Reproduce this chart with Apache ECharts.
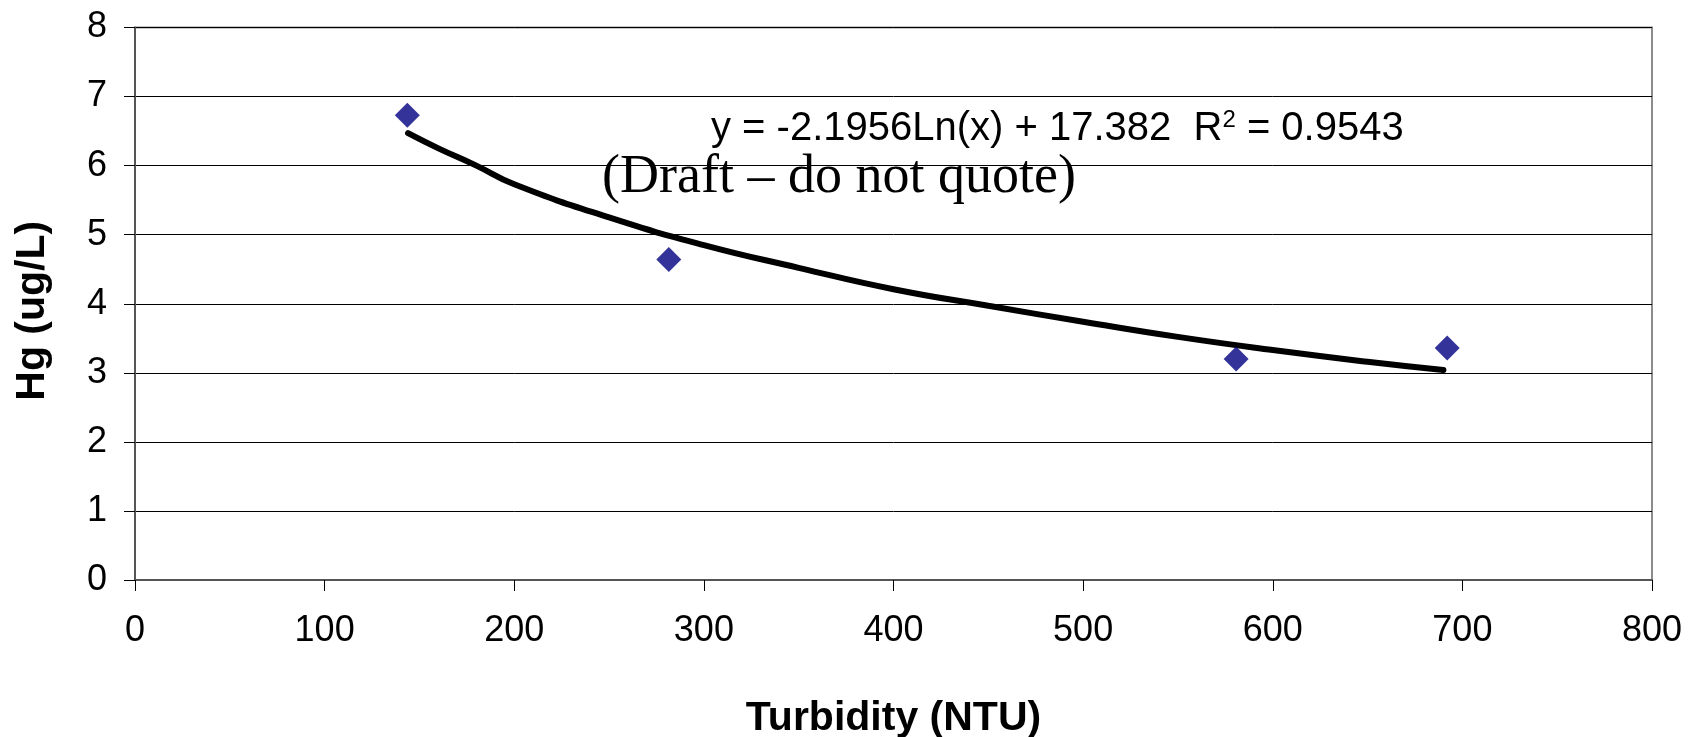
<!DOCTYPE html>
<html>
<head>
<meta charset="utf-8">
<script src="https://cdn.jsdelivr.net/npm/echarts@6/dist/echarts.min.js"></script>
<style>
  html, body { margin: 0; padding: 0; background: #fff; }
  #chart { width: 1696px; height: 737px; }
</style>
</head>
<body>
<div id="chart"></div>
<script>
// measured points: turbidity (NTU) vs Hg (ug/L)
const turbidity = [143.6, 281.5, 580.7, 692];
const hg = [6.73, 4.64, 3.2, 3.36];

// log trendline
const trendX = [144, 160, 180, 200, 250, 300, 350, 400, 450, 500, 550, 600, 650, 690];
const trendY = [6.47, 6.25, 6.0, 5.73, 5.25, 4.85, 4.52, 4.21, 3.97, 3.74, 3.52, 3.33, 3.16, 3.04];

const equationText = '{a|y = -2.1956Ln(x) + 17.382  R}{s|2}{a| = 0.9543}';
const draftText = '(Draft – do not quote)';

const chart = echarts.init(document.getElementById('chart'));

const option = {
  animation: false,
  grid: {
    left: 135,
    right: 44,
    top: 27.5,
    bottom: 157,
    containLabel: false,
    outerBoundsMode: 'none',
    show: true,
    borderColor: '#8c8c8c',
    borderWidth: 2,
    backgroundColor: '#fff'
  },
  xAxis: {
    type: 'value',
    min: 0,
    max: 800,
    interval: 100,
    name: 'Turbidity (NTU)',
    nameLocation: 'middle',
    nameGap: 118,
    nameTextStyle: { fontFamily: 'Liberation Sans', fontWeight: 'bold', fontSize: 41, color: '#000' },
    axisLine: { show: true, onZero: false, lineStyle: { color: '#555', width: 2 } },
    axisTick: { show: true, length: 11, lineStyle: { color: '#000', width: 1 } },
    axisLabel: { fontFamily: 'Liberation Sans', fontSize: 36, color: '#000', margin: 33 },
    splitLine: { show: false }
  },
  yAxis: {
    type: 'value',
    min: 0,
    max: 8,
    interval: 1,
    name: 'Hg (ug/L)',
    nameLocation: 'middle',
    nameRotate: 90,
    nameGap: 82,
    nameTextStyle: {
      fontFamily: 'Liberation Sans', fontWeight: 'bold', fontSize: 41, color: '#000',
      padding: [0, 14, 0, 0] // nudge down a bit, like the original
    },
    axisLine: { show: true, onZero: false, lineStyle: { color: '#555', width: 2 } },
    axisTick: { show: true, length: 11, lineStyle: { color: '#000', width: 1 } },
    axisLabel: { fontFamily: 'Liberation Sans', fontSize: 36, color: '#000', margin: 28 },
    splitLine: { show: true, lineStyle: { color: '#000', width: 1 } }
  },
  series: [
    {
      name: 'trend',
      type: 'line',
      data: trendX.map((x, i) => [x, trendY[i]]),
      smooth: true,
      showSymbol: false,
      lineStyle: { color: '#000', width: 6, cap: 'round' },
      z: 2
    },
    {
      name: 'Hg',
      type: 'scatter',
      data: turbidity.map((x, i) => [x, hg[i]]),
      symbol: 'diamond',
      symbolSize: 25,
      itemStyle: { color: '#000080' },
      z: 3
    }
  ],
  graphic: [
    {
      type: 'text',
      left: 711,
      top: 108,
      style: {
        text: equationText,
        rich: {
          a: { fontFamily: 'Liberation Sans', fontSize: 40, color: '#000', lineHeight: 42 },
          s: { fontFamily: 'Liberation Sans', fontSize: 24, color: '#000', verticalAlign: 'top', lineHeight: 42 }
        }
      },
      z: 10
    },
    {
      type: 'text',
      left: 602,
      top: 151,
      style: { text: draftText, font: '54px "Liberation Serif"', fill: '#000' },
      z: 10
    }
  ]
};

chart.setOption(option);
window.addEventListener('resize', () => chart.resize());
</script>
</body>
</html>
